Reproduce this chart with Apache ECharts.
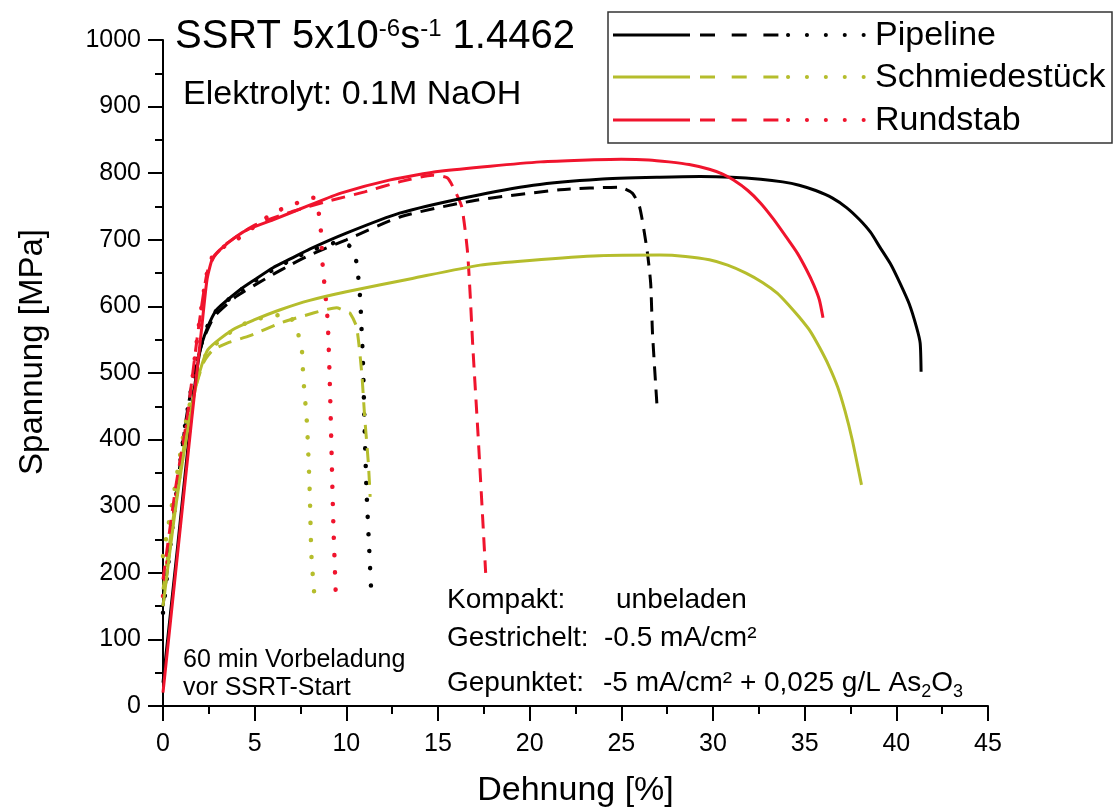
<!DOCTYPE html>
<html>
<head>
<meta charset="utf-8">
<script src="https://cdn.jsdelivr.net/npm/echarts@6/dist/echarts.min.js"></script>
<style>
  html, body { margin: 0; padding: 0; background: #fff; }
  #chart { width: 1115px; height: 808px; }
</style>
</head>
<body>
<div id="chart"></div>
<script>
// Stress–strain curves [strain %, stress MPa]
const pipelineSolid = [[0,35],[0.8,240],[1.6,450],[2.0,530],[2.38,565],[2.93,595],[4.2,625],[5.0,640],[6.0,658],[7.0,672],[8.0,686],[10,710],[12.9,740],[16.6,764],[20.2,782],[23.8,791],[27.1,794],[29.3,795],[31,794],[32.6,791],[33.8,787],[34.7,782],[35.6,774],[36.5,763],[37.3,748],[38.0,730],[38.6,711],[39.1,689],[39.7,663],[40.2,635],[40.7,604],[41.1,569],[41.3,545],[41.35,502]];
const pipelineDashed = [[0,150],[0.6,290],[1.2,420],[1.7,500],[2.2,550],[2.8,585],[4.0,615],[5.0,632],[6.0,648],[7.0,663],[8.0,677],[10,700],[13,735],[17,759],[21.65,775],[24.9,779],[25.6,770],[26.0,749],[26.4,685],[26.6,635],[26.7,560],[26.95,449]];
const pipelineDotted = [[0,140],[0.6,290],[1.2,420],[1.7,500],[2.2,555],[2.8,590],[4,620],[5,638],[6,655],[7,670],[8,683],[9,693],[9.66,697],[10.3,688],[10.56,665],[10.75,614],[10.84,560],[10.9,524],[11.0,414],[11.1,324],[11.25,234],[11.35,176]];

const forgingSolid = [[0,150],[0.6,280],[1.2,390],[1.84,485],[2.45,535],[3.8,565],[5.0,580],[6.4,595],[8,609],[10,622],[13.6,642],[17.3,662],[20,669],[23.8,676],[27.1,677],[28.5,675],[29.8,670],[30.8,662],[31.8,650],[32.7,636],[33.5,620],[34.1,603],[34.7,584],[35.3,563],[35.8,539],[36.3,512],[36.8,479],[37.2,443],[37.6,399],[38.1,332]];
const forgingDashed = [[0,175],[0.6,290],[1.2,400],[1.7,470],[2.2,515],[2.7,534],[3.5,545],[4.75,556],[6.4,575],[8.2,590],[9.47,598],[10.0,592],[10.2,590],[10.56,569],[10.84,500],[11.0,434],[11.2,365],[11.3,314]];
const forgingDotted = [[0,225],[0.6,320],[1.2,420],[1.84,495],[2.4,530],[3.5,558],[4.75,578],[6.0,586],[6.8,588],[7.3,565],[7.57,535],[7.65,494],[7.85,425],[8.0,324],[8.1,224],[8.3,152]];

const barSolid = [[0,20],[0.8,230],[1.56,429],[2.1,565],[2.4,640],[2.7,672],[3.1,685],[4,705],[4.75,717],[6.0,730],[8,752],[9.7,770],[12.4,790],[15.1,803],[20.6,817],[25,821],[26.5,820],[27.6,817],[28.7,813],[29.8,806],[30.5,799],[31.1,790],[31.9,774],[32.6,755],[33.3,731],[34.0,704],[34.6,680],[35.1,655],[35.5,632],[35.8,610],[36.0,583]];
const barDashed = [[0,190],[0.7,330],[1.3,430],[1.9,560],[2.4,650],[2.8,675],[3.5,695],[5,722],[7,742],[9,758],[11,772],[12.9,787],[14.7,797],[15.5,793],[15.9,775],[16.3,749],[16.6,685],[16.75,620],[16.9,539],[17.2,400],[17.6,200]];
const barDotted = [[0,165],[0.7,310],[1.3,420],[1.9,560],[2.4,650],[2.8,680],[4,700],[6,740],[7,752],[8.2,763],[8.56,730],[8.7,665],[8.95,590],[9.0,569],[9.1,485],[9.2,374],[9.29,275],[9.44,155]];

const materials = ['Pipeline', 'Schmiedestück', 'Rundstab'];
const colors = ['#000000', '#B5BD2C', '#F0142D'];
const xTicks = { min: 0, max: 45, step: 5 };
const yTicks = { min: 0, max: 1000, step: 100 };

const FONT = '"Liberation Sans", Arial, sans-serif';

const curves = [
  { m: 0, kind: 'solid',  data: pipelineSolid },
  { m: 0, kind: 'dashed', data: pipelineDashed },
  { m: 0, kind: 'dotted', data: pipelineDotted },
  { m: 1, kind: 'solid',  data: forgingSolid },
  { m: 1, kind: 'dashed', data: forgingDashed },
  { m: 1, kind: 'dotted', data: forgingDotted },
  { m: 2, kind: 'solid',  data: barSolid },
  { m: 2, kind: 'dashed', data: barDashed },
  { m: 2, kind: 'dotted', data: barDotted }
];

function lineStyleFor(kind, color) {
  if (kind === 'dashed') return { color, width: 3, type: [14, 9] };
  if (kind === 'dotted') return { color, width: 4.5, type: [0.1, 17], cap: 'round' };
  return { color, width: 3, type: 'solid' };
}

const series = curves.map(c => ({
  type: 'line',
  name: materials[c.m] + ' ' + c.kind,
  data: c.data,
  showSymbol: false,
  symbol: 'none',
  smooth: 0.2,
  lineStyle: lineStyleFor(c.kind, colors[c.m]),
  z: c.kind === 'solid' ? 3 : 2
}));

const axisCommon = {
  type: 'value',
  axisLine: { show: true, onZero: false, lineStyle: { color: '#000', width: 2 } },
  axisTick: { show: true, inside: false, length: 15, lineStyle: { color: '#000', width: 2 } },
  minorTick: { show: true, splitNumber: 2, length: 8, lineStyle: { color: '#000', width: 2 } },
  splitLine: { show: false },
  minorSplitLine: { show: false }
};

// Legend drawn as graphic: solid, dashed and dotted samples per material
const legendRows = [35, 77, 120];
const legendGraphics = [
  { type: 'rect', shape: { x: 608, y: 12, width: 504, height: 131 }, style: { fill: 'none', stroke: '#333', lineWidth: 1.5 } }
];
materials.forEach((name, i) => {
  const y = legendRows[i];
  legendGraphics.push(
    { type: 'line', shape: { x1: 613, y1: y, x2: 690, y2: y }, style: { stroke: colors[i], lineWidth: 3 } },
    { type: 'line', shape: { x1: 700, y1: y, x2: 779, y2: y }, style: { stroke: colors[i], lineWidth: 3, lineDash: [15, 16.7] } },
    { type: 'line', shape: { x1: 788, y1: y, x2: 865, y2: y }, style: { stroke: colors[i], lineWidth: 4, lineDash: [0.1, 18.8], lineCap: 'round' } },
    { type: 'text', x: 875, y: y + 1, style: { text: name, font: '34px ' + FONT, fill: '#000', verticalAlign: 'middle' } }
  );
});

function label(x, y, text, size, rich) {
  return { type: 'text', x, y, style: { text, font: size + 'px ' + FONT, fill: '#000', verticalAlign: 'middle', rich } };
}

const supRich = {
  a: { fontSize: 40, fontFamily: FONT, color: '#000' },
  sup: { fontSize: 24, fontFamily: FONT, color: '#000', verticalAlign: 'top', padding: [0, 0, 0, 0] }
};
const subRich = {
  a: { fontSize: 28, fontFamily: FONT, color: '#000' },
  sub: { fontSize: 18, fontFamily: FONT, color: '#000', verticalAlign: 'bottom', padding: [0, 0, -4, 0] }
};

const textGraphics = [
  label(175, 37, '{a|SSRT 5x10}{sup|-6}{a|s}{sup|-1}{a| 1.4462}', 40, supRich),
  label(183, 95, 'Elektrolyt: 0.1M NaOH', 34),
  label(447, 600, 'Kompakt:', 28),
  label(616, 600, 'unbeladen', 28),
  label(447, 638, 'Gestrichelt:', 28),
  label(604, 638, '-0.5 mA/cm²', 28),
  label(447, 683, '{a|Gepunktet:}', 28, subRich),
  label(603, 683, '{a|-5 mA/cm² + 0,025 g/L As}{sub|2}{a|O}{sub|3}', 28, subRich),
  label(183, 660, '60 min Vorbeladung', 25),
  label(183, 688, 'vor SSRT-Start', 25),
  { type: 'text', x: 33, y: 352, rotation: Math.PI / 2,
    style: { text: 'Spannung [MPa]', font: '33px ' + FONT, fill: '#000', align: 'center', verticalAlign: 'middle' } }
];

const chart = echarts.init(document.getElementById('chart'), null, { renderer: 'canvas' });
chart.setOption({
  animation: false,
  backgroundColor: '#fff',
  grid: { left: 163, right: 127, top: 40, bottom: 102, containLabel: false, outerBoundsMode: 'none' },
  xAxis: Object.assign({}, axisCommon, {
    min: xTicks.min, max: xTicks.max, interval: xTicks.step,
    axisLabel: { fontSize: 25, color: '#000', fontFamily: FONT, margin: 26, formatter: v => String(v) },
    name: 'Dehnung [%]', nameLocation: 'middle', nameGap: 68,
    nameTextStyle: { fontSize: 34, color: '#000', fontFamily: FONT }
  }),
  yAxis: Object.assign({}, axisCommon, {
    min: yTicks.min, max: yTicks.max, interval: yTicks.step,
    axisLabel: { fontSize: 25, color: '#000', fontFamily: FONT, margin: 22, formatter: v => String(v) }
  }),
  series,
  graphic: legendGraphics.concat(textGraphics)
});
</script>
</body>
</html>
